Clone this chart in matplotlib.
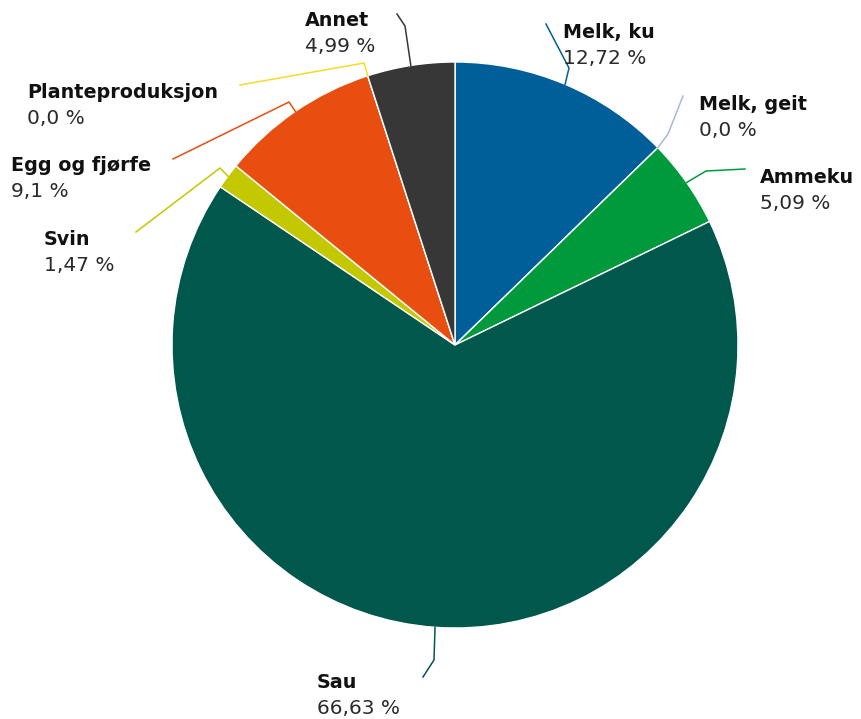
import numpy as np
import matplotlib
matplotlib.use("Agg")
import matplotlib.pyplot as plt

# data, clockwise from 12 o'clock
categories = ["Melk, ku", "Melk, geit", "Ammeku", "Sau", "Svin",
              "Egg og fjørfe", "Planteproduksjon", "Annet"]
shares = [12.72, 0.0, 5.09, 66.63, 1.47, 9.1, 0.0, 4.99]
pct_labels = ["12,72 %", "0,0 %", "5,09 %", "66,63 %", "1,47 %",
              "9,1 %", "0,0 %", "4,99 %"]
colors = ["#005e98", "#a9b9d9", "#009a3d", "#00574b", "#c3c800",
          "#e84e0f", "#f5dc2a", "#373737"]

W, H = 862, 719
CX, CY, R = 455, 345, 283  # pixel coords, y down


def P(x, y):
    return x, H - y


# label layout (pixel coords, y down): text left x, name baseline, elbow, line end
label_pos = {
    "Melk, ku": (563, 38, (569, 68), (546, 24)),
    "Melk, geit": (699, 110, (668, 134), (683, 96)),
    "Ammeku": (760, 183, (706, 171), (745, 169)),
    "Sau": (317, 688, (434, 660), (423, 677)),
    "Svin": (44, 245, (220, 168), (136, 232)),
    "Egg og fjørfe": (11, 171, (289, 102), (173, 159)),
    "Planteproduksjon": (27, 98, (364, 63), (240, 85)),
    "Annet": (305, 26, (405, 26), (397, 14)),
}

fig = plt.figure(figsize=(W / 100, H / 100), dpi=100)
ax = fig.add_axes([0, 0, 1, 1])

wedges, _ = ax.pie(shares, colors=colors, startangle=90, counterclock=False,
                   center=P(CX, CY), radius=R,
                   wedgeprops=dict(edgecolor="white", linewidth=1))

# pie() sets its own limits, so set the pixel frame afterwards
ax.set_xlim(0, W)
ax.set_ylim(0, H)
ax.set_aspect("equal")
ax.axis("off")

for w, name, pct, col in zip(wedges, categories, pct_labels, colors):
    mid = np.deg2rad((w.theta1 + w.theta2) / 2)
    ax_x = w.center[0] + R * np.cos(mid)
    ax_y = w.center[1] + R * np.sin(mid)
    tx, ty, elbow, end = label_pos[name]
    ex, ey = P(*elbow)
    lx, ly = P(*end)
    ax.plot([ax_x, ex, lx], [ax_y, ey, ly], color=col, lw=1.1,
            solid_joinstyle="round", zorder=1)
    ax.text(tx, H - ty, name, fontsize=13.8, fontweight="bold",
            color="#111111", va="baseline", ha="left")
    ax.text(tx, H - ty - 26, pct, fontsize=14.5, color="#2a2a2a",
            va="baseline", ha="left")

fig.savefig("out.png", dpi=100, facecolor="white")
